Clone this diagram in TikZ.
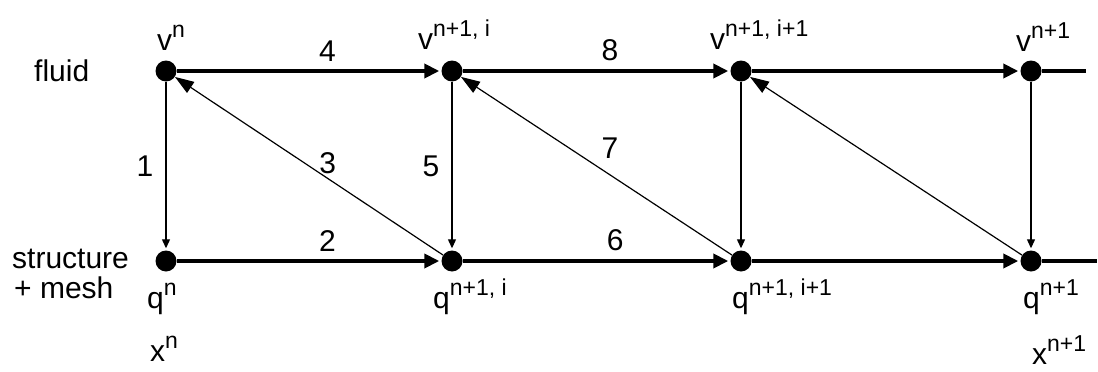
\documentclass[tikz,border=0pt]{standalone}
\usepackage{fontspec}
\setmainfont{Liberation Sans}
\usetikzlibrary{arrows.meta,positioning}
\newcommand{\upidx}[1]{\raisebox{13pt}{\fontsize{23}{24}\selectfont #1}}

\begin{document}
\begin{tikzpicture}[x=1pt, y=-1pt,
  font=\fontsize{30}{32}\selectfont,
  dot/.style={circle, fill=black, inner sep=0pt, minimum size=21pt},
  flow/.style={-{Triangle[length=15pt, width=14pt]}, line width=4pt, shorten >=2pt},
  trail/.style={line width=4pt},
  down/.style={-{Triangle[length=9pt, width=8pt]}, line width=1.2pt, shorten >=2pt},
  back/.style={-{Triangle[length=19pt, width=13pt]}, line width=1.2pt},
  num/.style={inner sep=8pt},
  lab/.style={anchor=base west, inner sep=0pt},
  rowlab/.style={anchor=base west, inner sep=0pt}]
\useasboundingbox (0,0) rectangle (1098,372);
% time levels: fluid on top, structure + mesh below
\node[dot] (v0) at (166,71) {};
\node[dot] (v1) at (452,71) {};
\node[dot] (v2) at (741,71) {};
\node[dot] (v3) at (1031,71) {};
\node[dot] (q0) at (166,261) {};
\node[dot] (q1) at (452,261) {};
\node[dot] (q2) at (741,261) {};
\node[dot] (q3) at (1031,261) {};
\coordinate (vend) at (1086,71);
\coordinate (qend) at (1097,261);
% row names
\node[rowlab] (fluid) at (34,81) {fluid};
\node[rowlab] (struct) at (12,268) {structure};
\node[rowlab] (mesh) at (14,298) {+ mesh};
% state labels
\node[lab] (lv0) at ([xshift=-9pt, yshift=21pt]v0) {v\upidx{n}};
\node[lab] (lv1) at ([xshift=-34pt, yshift=22pt]v1) {v\upidx{n+1, i}};
\node[lab] (lv2) at ([xshift=-31pt, yshift=22pt]v2) {v\upidx{n+1, i+1}};
\node[lab] (lv3) at ([xshift=-15pt, yshift=20pt]v3) {v\upidx{n+1}};
\node[lab] (lq0) at ([xshift=-19pt, yshift=-47pt]q0) {q\upidx{n}};
\node[lab] (lq1) at ([xshift=-19pt, yshift=-47pt]q1) {q\upidx{n+1, i}};
\node[lab] (lq2) at ([xshift=-9pt, yshift=-47pt]q2) {q\upidx{n+1, i+1}};
\node[lab] (lq3) at ([xshift=-8pt, yshift=-47pt]q3) {q\upidx{n+1}};
\node[lab] (lx0) at ([xshift=-16pt, yshift=-100pt]q0) {x\upidx{n}};
\node[lab] (lx3) at ([xshift=1pt, yshift=-103pt]q3) {x\upidx{n+1}};
% fluid sweeps
\draw[flow] (v0) -- node[num, above, pos=0.57]{4} (v1);
\draw[flow] (v1) -- node[num, above, pos=0.55]{8} (v2);
\draw[flow] (v2) -- (v3);
\draw[trail] (v3) -- (vend);
% structure sweeps
\draw[flow] (q0) -- node[num, above, pos=0.57]{2} (q1);
\draw[flow] (q1) -- node[num, above, pos=0.57]{6} (q2);
\draw[flow] (q2) -- (q3);
\draw[trail] (q3) -- (qend);
% transfer fluid -> structure
\draw[down] (v0) -- node[num, left, inner sep=12pt]{1} (q0);
\draw[down] (v1) -- node[num, left, inner sep=12pt]{5} (q1);
\draw[down] (v2) -- (q2);
\draw[down] (v3) -- (q3);
% transfer structure -> fluid
\draw[back] (q1) -- node[num, above, pos=0.43, inner sep=4pt]{3} (v0);
\draw[back] (q2) -- node[num, above, pos=0.45, inner sep=16pt]{7} (v1);
\draw[back] (q3) -- (v2);
\end{tikzpicture}
\end{document}
